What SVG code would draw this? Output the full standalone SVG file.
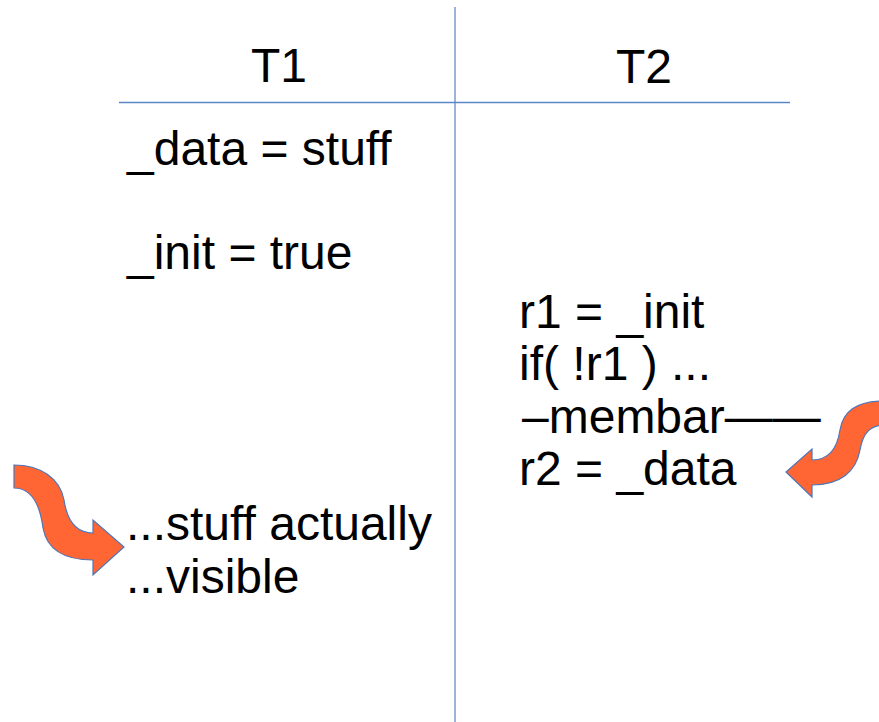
<svg xmlns="http://www.w3.org/2000/svg" width="879" height="722" viewBox="0 0 879 722">
  <style>
    .t { font-family: "Liberation Sans", Arial, sans-serif; font-size: 48px; fill: #000; }
    .curl { fill: #FF6633; stroke: #4F75B8; stroke-width: 1.2; stroke-linejoin: miter; }
  </style>
  <rect width="879" height="722" fill="#fff"/>

  <!-- table rules -->
  <g id="connectors">
    <line x1="455" y1="7" x2="455" y2="722" stroke="#93ACD3" stroke-width="1.8"/>
    <line x1="119" y1="102.5" x2="790" y2="102.5" stroke="#5B86C5" stroke-width="1.5"/>
  </g>

  <!-- column headers -->
  <g id="header-t1"><text class="t" x="251" y="82">T1</text></g>
  <g id="header-t2"><text class="t" x="616" y="83">T2</text></g>

  <!-- thread 1 -->
  <g id="t1-store-data"><text class="t" x="127" y="165">_data = stuff</text></g>
  <g id="t1-store-init"><text class="t" x="127" y="269">_init = true</text></g>
  <g id="t1-visible">
    <text class="t" x="126" y="540">...stuff actually</text>
    <text class="t" x="126" y="593">...visible</text>
  </g>

  <!-- thread 2 -->
  <g id="t2-code">
    <text class="t" x="519" y="328">r1 = _init</text>
    <text class="t" x="519" y="380">if( !r1 ) ...</text>
    <text class="t" x="522" y="433">–membar——</text>
    <text class="t" x="519" y="485">r2 = _data</text>
  </g>

  <!-- curly arrows -->
  <g id="arrow-left">
    <path class="curl" d="M14,465 C40,465 60,478 64,500 C67,520 75,533 93,533 L93,520 L124,547 L93,575 L93,560 C65,560 47,550 43,528 C40,505 32,488 14,488 Z"/>
  </g>
  <g id="arrow-right">
    <path class="curl" d="M885,401 C855,401 843,412 840,430 C837,450 828,460 812,460 L812,449 L786,472 L812,497 L812,485 C840,485 856,472 860,450 C863,433 870,425 885,425 Z"/>
  </g>
</svg>
